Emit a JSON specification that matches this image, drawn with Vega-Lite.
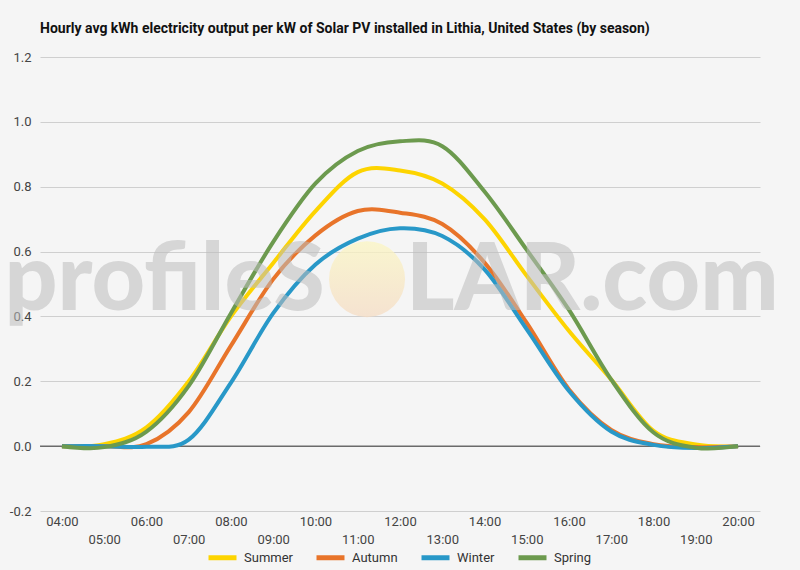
{
  "$schema": "https://vega.github.io/schema/vega-lite/v6.json",
  "autosize": {"type": "none"},
  "width": 720,
  "height": 454,
  "padding": {"left": 40, "top": 57, "right": 40, "bottom": 59},
  "background": "#f5f5f5",
  "title": {
    "text": "Hourly avg kWh electricity output per kW of Solar PV installed in Lithia, United States (by season)",
    "anchor": "start",
    "offset": 15
  },
  "layer": [
    {
      "data": {"values": [{"zero": 0}]},
      "mark": {"type": "rule", "color": "#333333", "strokeWidth": 1},
      "encoding": {"y": {"field": "zero", "type": "quantitative"}}
    },
    {
      "data": {
        "values": [
          {"hour": 4, "season": "Summer", "kwh": 0},
          {"hour": 5, "season": "Summer", "kwh": 0.006},
          {"hour": 6, "season": "Summer", "kwh": 0.058},
          {"hour": 7, "season": "Summer", "kwh": 0.2},
          {"hour": 8, "season": "Summer", "kwh": 0.4},
          {"hour": 9, "season": "Summer", "kwh": 0.565},
          {"hour": 10, "season": "Summer", "kwh": 0.725},
          {"hour": 11, "season": "Summer", "kwh": 0.845},
          {"hour": 12, "season": "Summer", "kwh": 0.85},
          {"hour": 13, "season": "Summer", "kwh": 0.81},
          {"hour": 14, "season": "Summer", "kwh": 0.7},
          {"hour": 15, "season": "Summer", "kwh": 0.525},
          {"hour": 16, "season": "Summer", "kwh": 0.355},
          {"hour": 17, "season": "Summer", "kwh": 0.205},
          {"hour": 18, "season": "Summer", "kwh": 0.047},
          {"hour": 19, "season": "Summer", "kwh": 0.005},
          {"hour": 20, "season": "Summer", "kwh": 0},
          {"hour": 4, "season": "Autumn", "kwh": 0},
          {"hour": 5, "season": "Autumn", "kwh": 0},
          {"hour": 6, "season": "Autumn", "kwh": 0.006},
          {"hour": 7, "season": "Autumn", "kwh": 0.105},
          {"hour": 8, "season": "Autumn", "kwh": 0.31},
          {"hour": 9, "season": "Autumn", "kwh": 0.515},
          {"hour": 10, "season": "Autumn", "kwh": 0.65},
          {"hour": 11, "season": "Autumn", "kwh": 0.725},
          {"hour": 12, "season": "Autumn", "kwh": 0.72},
          {"hour": 13, "season": "Autumn", "kwh": 0.685},
          {"hour": 14, "season": "Autumn", "kwh": 0.566},
          {"hour": 15, "season": "Autumn", "kwh": 0.38},
          {"hour": 16, "season": "Autumn", "kwh": 0.175},
          {"hour": 17, "season": "Autumn", "kwh": 0.05},
          {"hour": 18, "season": "Autumn", "kwh": 0.006},
          {"hour": 19, "season": "Autumn", "kwh": -0.003},
          {"hour": 20, "season": "Autumn", "kwh": 0},
          {"hour": 4, "season": "Winter", "kwh": 0},
          {"hour": 5, "season": "Winter", "kwh": 0},
          {"hour": 6, "season": "Winter", "kwh": -0.002},
          {"hour": 7, "season": "Winter", "kwh": 0.02},
          {"hour": 8, "season": "Winter", "kwh": 0.196},
          {"hour": 9, "season": "Winter", "kwh": 0.41},
          {"hour": 10, "season": "Winter", "kwh": 0.56},
          {"hour": 11, "season": "Winter", "kwh": 0.64},
          {"hour": 12, "season": "Winter", "kwh": 0.672},
          {"hour": 13, "season": "Winter", "kwh": 0.648},
          {"hour": 14, "season": "Winter", "kwh": 0.545},
          {"hour": 15, "season": "Winter", "kwh": 0.36},
          {"hour": 16, "season": "Winter", "kwh": 0.17},
          {"hour": 17, "season": "Winter", "kwh": 0.045},
          {"hour": 18, "season": "Winter", "kwh": 0.004},
          {"hour": 19, "season": "Winter", "kwh": -0.006},
          {"hour": 20, "season": "Winter", "kwh": 0},
          {"hour": 4, "season": "Spring", "kwh": 0},
          {"hour": 5, "season": "Spring", "kwh": -0.003},
          {"hour": 6, "season": "Spring", "kwh": 0.045},
          {"hour": 7, "season": "Spring", "kwh": 0.186},
          {"hour": 8, "season": "Spring", "kwh": 0.41},
          {"hour": 9, "season": "Spring", "kwh": 0.63},
          {"hour": 10, "season": "Spring", "kwh": 0.81},
          {"hour": 11, "season": "Spring", "kwh": 0.91},
          {"hour": 12, "season": "Spring", "kwh": 0.94},
          {"hour": 13, "season": "Spring", "kwh": 0.925},
          {"hour": 14, "season": "Spring", "kwh": 0.785},
          {"hour": 15, "season": "Spring", "kwh": 0.605},
          {"hour": 16, "season": "Spring", "kwh": 0.42},
          {"hour": 17, "season": "Spring", "kwh": 0.205},
          {"hour": 18, "season": "Spring", "kwh": 0.042},
          {"hour": 19, "season": "Spring", "kwh": -0.005},
          {"hour": 20, "season": "Spring", "kwh": 0}
        ]
      },
      "mark": {"type": "line", "interpolate": "cardinal", "strokeWidth": 4},
      "encoding": {
        "x": {
          "field": "hour",
          "type": "quantitative",
          "scale": {"domain": [3.48, 20.52], "nice": false, "zero": false},
          "axis": {
            "title": null,
            "values": [4, 5, 6, 7, 8, 9, 10, 11, 12, 13, 14, 15, 16, 17, 18, 19, 20],
            "labelExpr": "datum.value % 2 == 1 ? [' ', (datum.value < 10 ? '0' : '') + datum.value + ':00'] : (datum.value < 10 ? '0' : '') + datum.value + ':00'",
            "labelBaseline": "top",
            "labelLineHeight": 18,
            "labelPadding": 4,
            "labelOverlap": false,
            "labelFlush": false,
            "domain": false,
            "ticks": false,
            "grid": false
          }
        },
        "y": {
          "field": "kwh",
          "type": "quantitative",
          "scale": {"domain": [-0.2, 1.2], "nice": false},
          "axis": {
            "title": null,
            "values": [-0.2, -0.1, 0, 0.1, 0.2, 0.3, 0.4, 0.5, 0.6, 0.7, 0.8, 0.9, 1.0, 1.1, 1.2],
            "labelExpr": "abs(round(datum.value * 10)) % 2 == 0 ? (datum.value < -0.01 ? '-' : '') + format(abs(datum.value), '.1f') : ''",
            "gridColor": {"condition": {"test": "abs(round(datum.value * 10)) % 2 == 1", "value": "#e6e6e6"}, "value": "#cfcfcf"},
            "domain": false,
            "ticks": false,
            "labelPadding": 9
          }
        },
        "color": {
          "field": "season",
          "type": "nominal",
          "scale": {
            "domain": ["Summer", "Autumn", "Winter", "Spring"],
            "range": ["#fdd400", "#e8742a", "#2898c8", "#6c9a4e"]
          },
          "legend": {
            "title": null,
            "orient": "none",
            "direction": "horizontal",
            "legendX": 166,
            "legendY": 484,
            "symbolType": "stroke",
            "symbolSize": 784,
            "symbolStrokeWidth": 5,
            "labelOffset": 5,
            "columnPadding": 13
          }
        }
      }
    },
    {
      "data": {"values": [{}]},
      "mark": {"type": "text", "font": "Lato", "fontWeight": 900, "fontSize": 93, "align": "right", "baseline": "alphabetic", "color": "#bdbdbd", "opacity": 0.55},
      "encoding": {
        "x": {"datum": 10.22, "type": "quantitative"},
        "y": {"datum": 0.42, "type": "quantitative"},
        "text": {"value": "profileS"}
      }
    },
    {
      "data": {"values": [{}]},
      "mark": {"type": "text", "font": "Lato", "fontWeight": 900, "fontSize": 93, "align": "left", "baseline": "alphabetic", "color": "#bdbdbd", "opacity": 0.55},
      "encoding": {
        "x": {"datum": 12.14, "type": "quantitative"},
        "y": {"datum": 0.42, "type": "quantitative"},
        "text": {"value": "LAR.com"}
      }
    },
    {
      "data": {"values": [{}]},
      "mark": {
        "type": "circle",
        "size": 5776,
        "opacity": 0.75,
        "fill": {
          "gradient": "linear",
          "x1": 0, "y1": 0, "x2": 0, "y2": 1,
          "stops": [
            {"offset": 0, "color": "#fbf6c2"},
            {"offset": 1, "color": "#f5dcc4"}
          ]
        }
      },
      "encoding": {
        "x": {"datum": 11.22, "type": "quantitative"},
        "y": {"datum": 0.515, "type": "quantitative"}
      }
    }
  ],
  "config": {
    "font": "Roboto",
    "view": {"stroke": null},
    "title": {"font": "Roboto", "fontSize": 14, "fontWeight": "bold", "color": "#111111", "frame": "group"},
    "axis": {"labelFont": "Roboto", "labelFontSize": 13, "labelColor": "#444444"},
    "legend": {"labelFont": "Roboto", "labelFontSize": 13, "labelColor": "#333333"}
  }
}
